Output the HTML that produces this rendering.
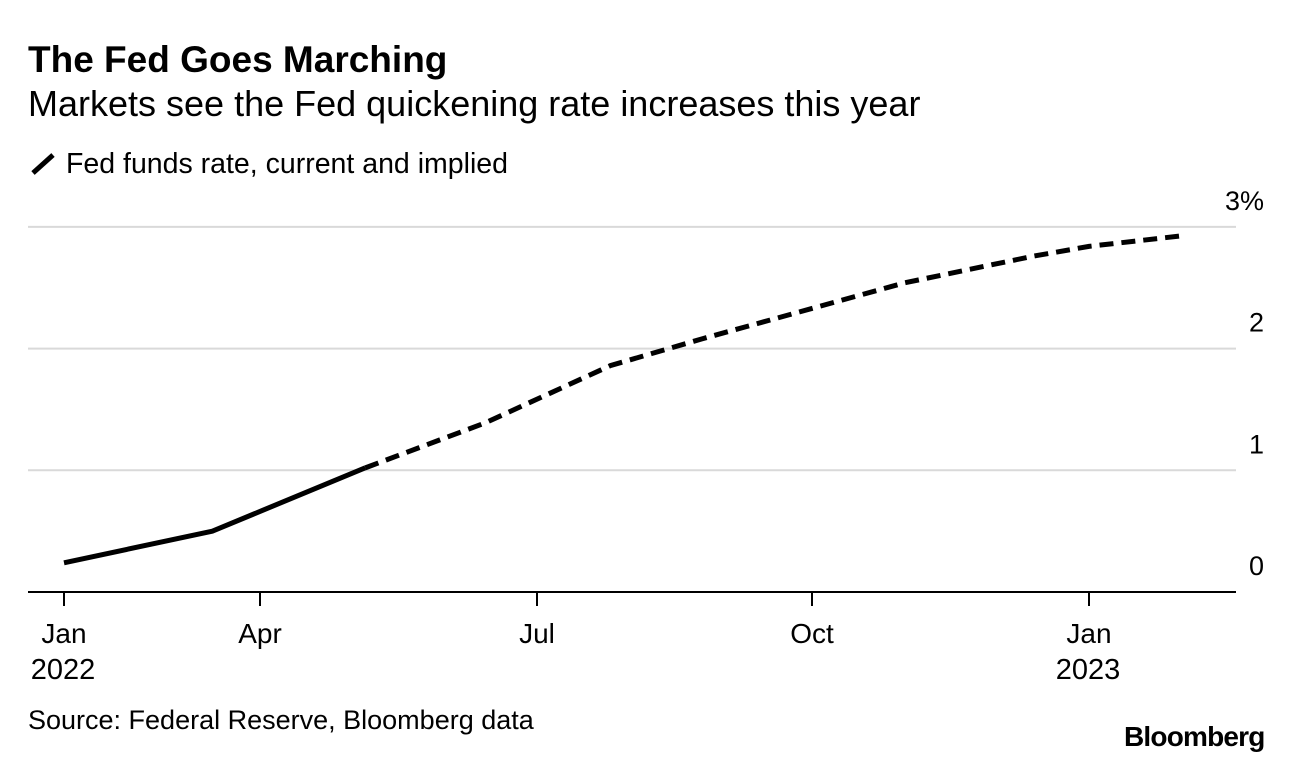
<!DOCTYPE html>
<html><head><meta charset="utf-8"><style>
body{margin:0;background:#fff;width:1292px;height:764px;overflow:hidden;font-family:"Liberation Sans",sans-serif;color:#000}
.t{position:absolute;white-space:nowrap}
</style></head><body>
<div class="t" style="left:28px;top:39px;font-size:37px;font-weight:bold;letter-spacing:0px">The Fed Goes Marching</div>
<div class="t" style="left:28px;top:83px;font-size:36px">Markets see the Fed quickening rate increases this year</div>
<svg class="t" style="left:28px;top:150px" width="30" height="28"><line x1="5" y1="23" x2="25" y2="5" stroke="#000" stroke-width="5"/></svg>
<div class="t" style="left:66px;top:148px;font-size:28.5px">Fed funds rate, current and implied</div>
<svg id="chart" style="position:absolute;left:0;top:0" width="1292" height="764"></svg>
<div class="t" style="left:28px;top:705px;font-size:27px">Source: Federal Reserve, Bloomberg data</div>
<div class="t" style="left:1124px;top:721px;font-size:28px;font-weight:bold;letter-spacing:-0.8px">Bloomberg</div>
<script>
const solidMonths=[0,2.27,4.14];
const solidValues=[0.24,0.5,1.02];
const dashMonths=[4.14,5.44,6.8,7.8,9,10,11.4,12,13.04];
const dashValues=[1.02,1.39,1.86,2.08,2.33,2.54,2.76,2.84,2.93];
const yTicks=[0,1,2,3];
const yTickLabels=['0','1','2','3%'];
const xTickMonths=[0,3,6,9,12];
const xTickLabels=['Jan','Apr','Jul','Oct','Jan'];
const xYearLabels=['2022','','','','2023'];
const NS='http://www.w3.org/2000/svg';
const svg=document.getElementById('chart');
const tickPx=[64,260,537,812,1089];
function x(m){let i=0;while(i<xTickMonths.length-2&&m>xTickMonths[i+1])i++;
const m0=xTickMonths[i],m1=xTickMonths[i+1];return tickPx[i]+(m-m0)/(m1-m0)*(tickPx[i+1]-tickPx[i]);}
function y(v){return 592-v*121.7;}
function mk(t,a){const e=document.createElementNS(NS,t);for(const k in a)e.setAttribute(k,a[k]);svg.appendChild(e);return e;}
yTicks.forEach((v,i)=>{
 if(v>0){const g=mk('line',{x1:28,x2:1236,y1:y(v),y2:y(v),stroke:'#d9d9d9','stroke-width':2});
 
 }
 const t=mk('text',{x:1264,y:y(v)-17,'text-anchor':'end','font-size':27,'font-family':'Liberation Sans'});
 t.textContent=yTickLabels[i];
 
 
});
const ax=mk('line',{x1:28,x2:1236,y1:592,y2:592,stroke:'#000','stroke-width':2});


xTickMonths.forEach((m,i)=>{
 const tk=mk('line',{x1:x(m),x2:x(m),y1:592,y2:606,stroke:'#000','stroke-width':2});
 
 
 const t=mk('text',{x:x(m),y:643,'text-anchor':'middle','font-size':28,'font-family':'Liberation Sans'});
 t.textContent=xTickLabels[i];
 
 
 if(xYearLabels[i]){const yt=mk('text',{x:x(m)-1,y:679,'text-anchor':'middle','font-size':29,'font-family':'Liberation Sans'});
 yt.textContent=xYearLabels[i];
 
 }
});
function pts(ms,vs){return ms.map((m,i)=>x(m)+','+y(vs[i])).join(' ');}
const s=mk('polyline',{points:pts(solidMonths,solidValues),fill:'none',stroke:'#000','stroke-width':5,'stroke-linejoin':'round'});


const d=mk('polyline',{points:pts(dashMonths,dashValues),fill:'none',stroke:'#000','stroke-width':5,'stroke-dasharray':'14 8'});


</script>
</body></html>
